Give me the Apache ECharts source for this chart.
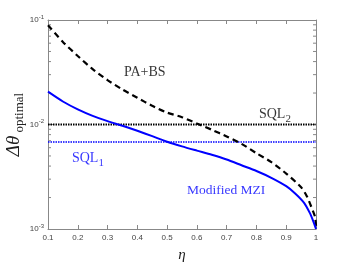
<!DOCTYPE html>
<html><head><meta charset="utf-8">
<script src="https://cdn.jsdelivr.net/npm/echarts@6/dist/echarts.min.js"></script>
<style>html,body{margin:0;padding:0;background:#fff}#c{width:350px;height:263px}</style>
</head><body><div id="c"></div>
<script>
// eta values and curves
const etaDashed = [0.1, 0.15, 0.2, 0.25, 0.3, 0.35, 0.4, 0.45, 0.5, 0.55, 0.6, 0.65, 0.7, 0.75, 0.8, 0.85, 0.9, 0.95, 0.97, 0.99, 0.997, 1.0];
const paBs = [0.0891, 0.0617, 0.0452, 0.0339, 0.0266, 0.0216, 0.0180, 0.0151, 0.0130, 0.01175, 0.01023, 0.00891, 0.00767, 0.00653, 0.00531, 0.00437, 0.00339, 0.00251, 0.00204, 0.00148, 0.0013, 0.00107];
const etaBlue = [0.1, 0.15, 0.2, 0.25, 0.3, 0.35, 0.4, 0.45, 0.5, 0.55, 0.6, 0.65, 0.7, 0.75, 0.8, 0.85, 0.9, 0.93, 0.96, 0.98, 0.99, 1.0];
const modifiedMzi = [0.0206, 0.0166, 0.01396, 0.0121, 0.01076, 0.00973, 0.00871, 0.00773, 0.00684, 0.00617, 0.00562, 0.00513, 0.00462, 0.00407, 0.00359, 0.00309, 0.00257, 0.00219, 0.00178, 0.00141, 0.0012, 0.001];
const sql1 = 0.0068;
const sql2 = 0.01;
const xTicks = [0.1, 0.2, 0.3, 0.4, 0.5, 0.6, 0.7, 0.8, 0.9, 1];
const minorYTicks = [0.002,0.003,0.004,0.005,0.006,0.007,0.008,0.009,0.02,0.03,0.04,0.05,0.06,0.07,0.08,0.09];

const chart = echarts.init(document.getElementById('c'), null, {renderer:'canvas'});
const tickFont = {fontFamily:'Liberation Sans', fontSize:8, color:'#444'};
const option = {
  animation:false,
  grid:{left:48, right:34, top:20, bottom:34, containLabel:false, outerBoundsMode:'none'},
  xAxis:[{
    type:'value', min:0.1, max:1, interval:0.1,
    axisLine:{lineStyle:{color:'#888', width:1}},
    axisTick:{inside:true, length:4, lineStyle:{color:'#888'}},
    splitLine:{show:false},
    axisLabel:Object.assign({margin:5, formatter:v=>String(+v.toFixed(1))}, tickFont),
    name:'η', nameLocation:'middle', nameGap:19, nameMoveOverlap:false,
    nameTextStyle:{fontFamily:'Liberation Serif', fontStyle:'italic', fontSize:15, color:'#222'}
  },{
    type:'value', position:'top', min:0.1, max:1, interval:0.1,
    axisLine:{lineStyle:{color:'#888', width:1}},
    axisTick:{inside:true, length:4, lineStyle:{color:'#888'}},
    axisLabel:{show:false}, splitLine:{show:false}
  }],
  yAxis:[{
    type:'log', logBase:10, min:0.001, max:0.1,
    axisLine:{show:true, lineStyle:{color:'#888', width:1}},
    axisTick:{show:true, inside:true, length:5, lineStyle:{color:'#888'}},
    splitLine:{show:false},
    axisLabel:{margin:4, formatter:v=>{const k=Math.round(-Math.log10(v));return '{b|10}{s|-'+k+'}';},
      rich:{b:{fontFamily:'Liberation Sans', fontSize:8, color:'#444'}, s:{fontFamily:'Liberation Sans', fontSize:6, color:'#444', padding:[0,0,6,0]}}},
    name:'{a|Δθ}{b| optimal}', nameLocation:'middle', nameGap:22, nameRotate:90, nameMoveOverlap:false,
    nameTextStyle:{rich:{a:{fontFamily:'Liberation Serif', fontStyle:'italic', fontSize:19, color:'#222'}, b:{fontFamily:'Liberation Serif', fontSize:13, color:'#222', padding:[12,0,0,0]}}}
  },{
    type:'log', logBase:10, min:0.001, max:0.1, position:'right',
    axisLine:{show:true, lineStyle:{color:'#888', width:1}},
    axisTick:{show:true, inside:true, length:5, lineStyle:{color:'#888'}},
    axisLabel:{show:false}, splitLine:{show:false}
  }],
  series:[
    {type:'line', name:'SQL2', data:[[xTicks[0], sql2],[xTicks[xTicks.length-1], sql2]], showSymbol:false,
      lineStyle:{color:'#000', width:2, type:[1.5,1]}, z:2},
    {type:'line', name:'SQL1', data:[[xTicks[0], sql1],[xTicks[xTicks.length-1], sql1]], showSymbol:false,
      lineStyle:{color:'#0000ff', width:1.5, type:[1.5,1]}, z:2},
    {type:'line', name:'PA+BS', data:etaDashed.map((e,i)=>[e,paBs[i]]), showSymbol:false, smooth:0.25,
      lineStyle:{color:'#000', width:2.2, type:[6,4]}, z:3},
    {type:'line', name:'Modified MZI', data:etaBlue.map((e,i)=>[e,modifiedMzi[i]]), showSymbol:false, smooth:0.25,
      lineStyle:{color:'#0000ff', width:2}, z:4},
    {type:'custom', name:'minor', data:minorYTicks.map(v=>[v]), silent:true, z:1,
      renderItem:(params, api)=>{
        const v = api.value(0);
        const l = api.coord([0.1, v]); const r = api.coord([1, v]);
        const st = {stroke:'#888', lineWidth:1};
        return {type:'group', children:[
          {type:'line', shape:{x1:l[0], y1:l[1], x2:l[0]+3, y2:l[1]}, style:st},
          {type:'line', shape:{x1:r[0], y1:r[1], x2:r[0]-3, y2:r[1]}, style:st}
        ]};
      }},
    {type:'scatter', name:'labels', symbolSize:0, silent:true, z:5,
      data:[
        {value:[0.425, 0.0316], label:{show:true, formatter:'PA+BS', color:'#000', fontFamily:'Liberation Serif', fontSize:14}},
        {value:[0.862, 0.0125], label:{show:true, formatter:'{a|SQL}{b|2}', rich:{a:{color:'#000', fontFamily:'Liberation Serif', fontSize:14}, b:{color:'#000', fontFamily:'Liberation Serif', fontSize:11, padding:[9,0,0,0]}}}},
        {value:[0.234, 0.0047], label:{show:true, formatter:'{a|SQL}{b|1}', rich:{a:{color:'#0000ff', fontFamily:'Liberation Serif', fontSize:14}, b:{color:'#0000ff', fontFamily:'Liberation Serif', fontSize:11, padding:[9,0,0,0]}}}},
        {value:[0.698, 0.00236], label:{show:true, formatter:'Modified MZI', color:'#0000ff', fontFamily:'Liberation Serif', fontSize:13.5}}
      ], label:{position:'inside'}}
  ]
};
chart.setOption(option);
</script></body></html>
